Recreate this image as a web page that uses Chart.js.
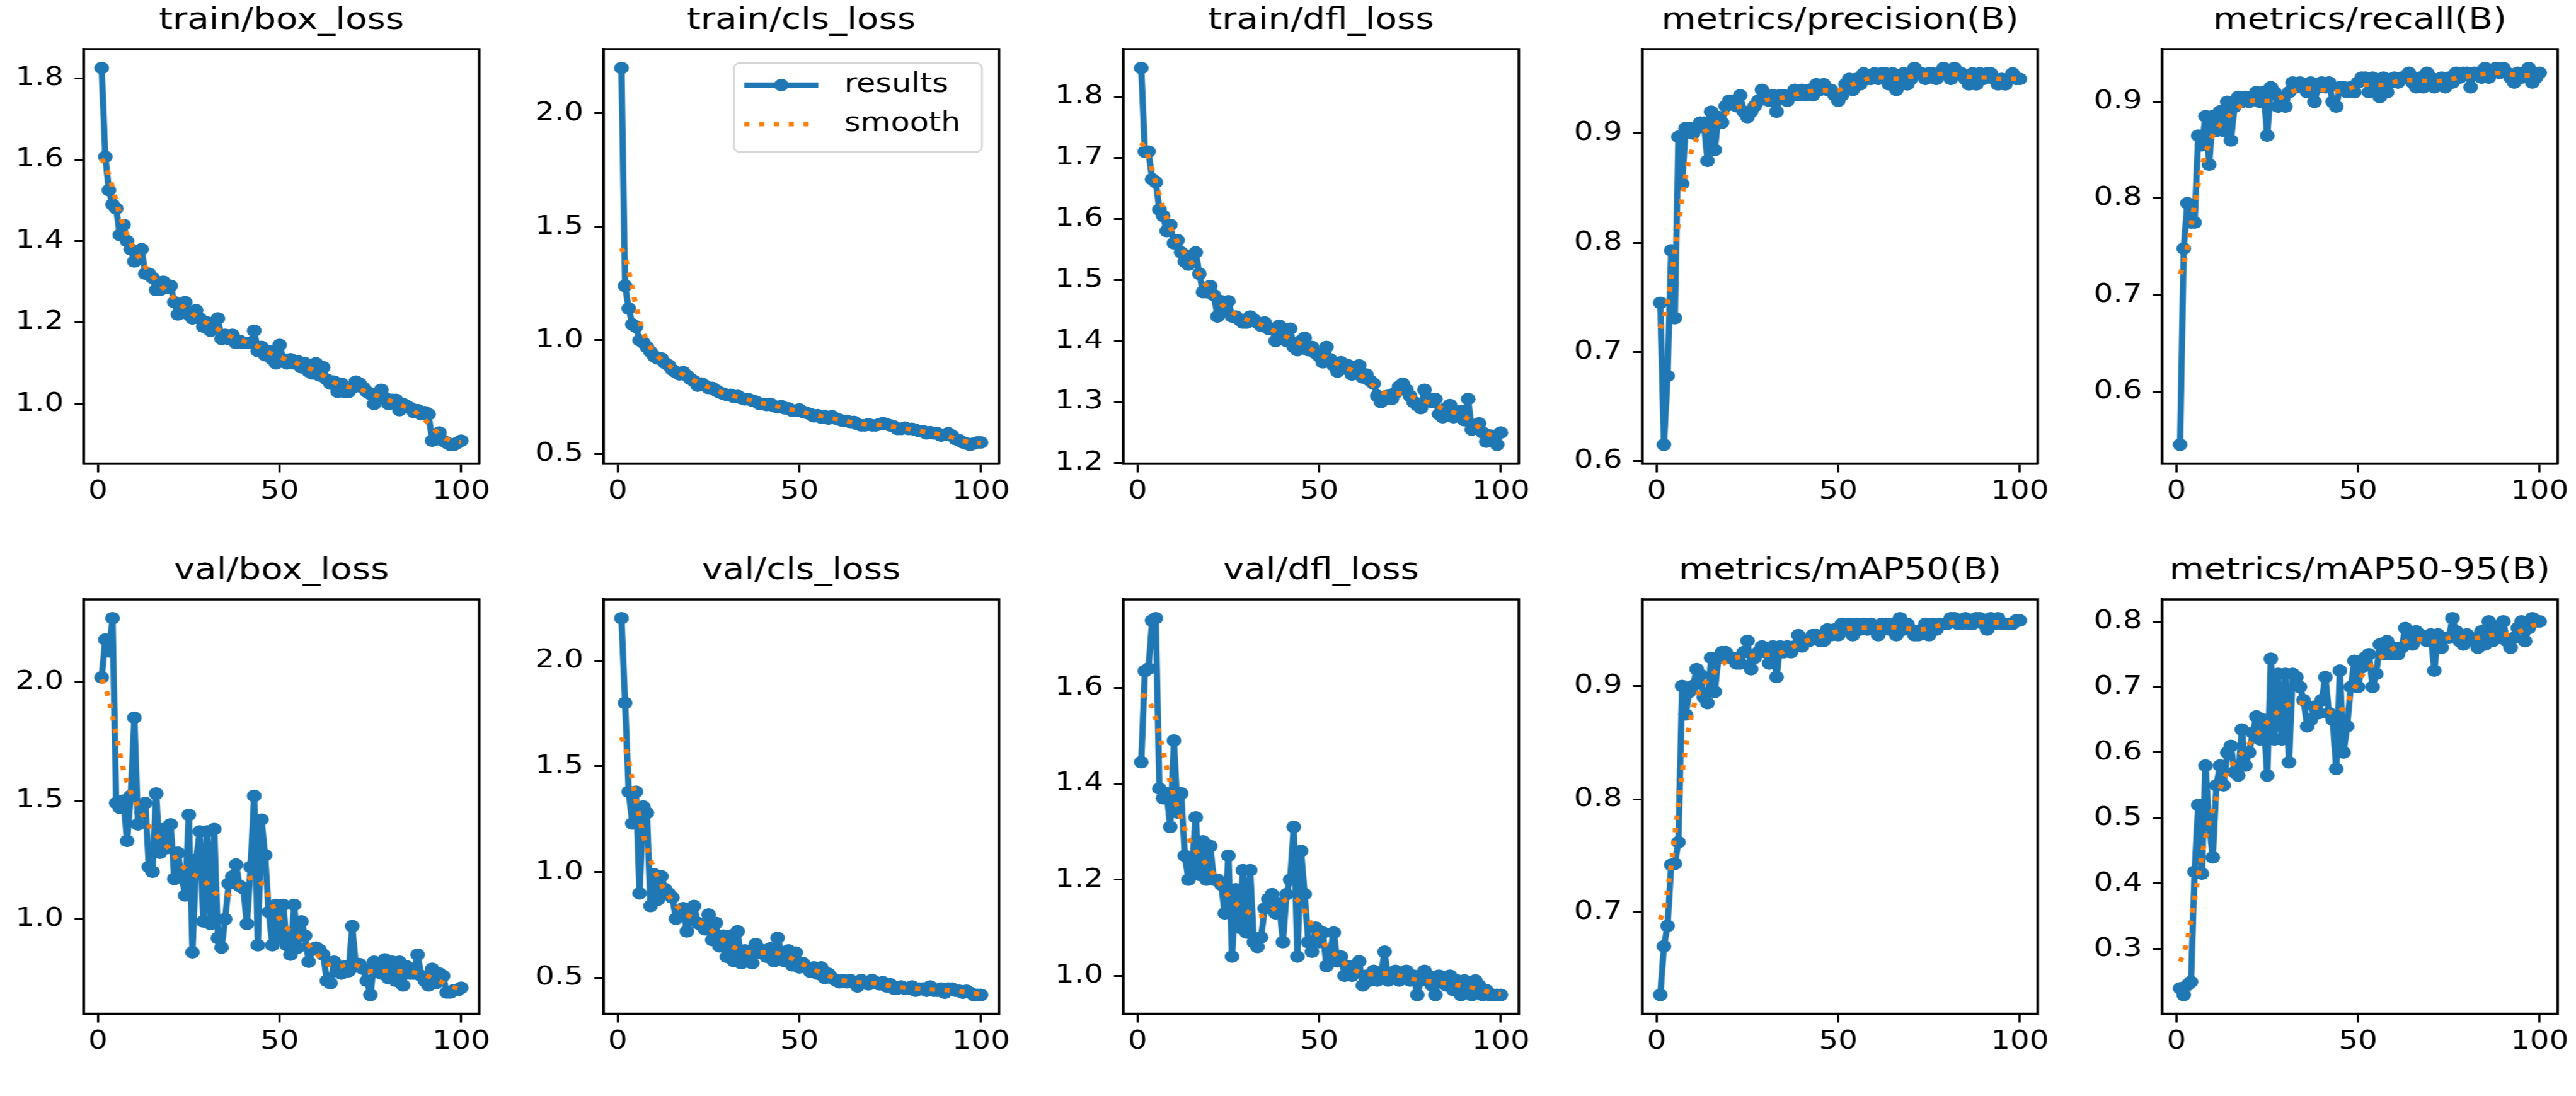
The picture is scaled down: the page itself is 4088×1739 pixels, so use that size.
<!DOCTYPE html>
<html>
<head>
<meta charset="utf-8">
<title>results</title>
<script src="https://cdn.jsdelivr.net/npm/chart.js@4.4.0/dist/chart.umd.min.js"></script>
<style>
  html, body { margin: 0; padding: 0; background: #fff; overflow: hidden; width: 4088px; height: 1739px; }
  /* the figure is drawn unstretched, then widened like the reference picture */
  #fig { position: absolute; left: 0; top: 0; width: 3479px; height: 1739px; transform-origin: 0 0; transform: scaleX(1.17505); }
  #fig canvas { position: absolute; }
</style>
</head>
<body>
<div id="fig"></div>
<script>
// epochs (x axis)
const epochs = [1,2,3,4,5,6,7,8,9,10,11,12,13,14,15,16,17,18,19,20,
  21,22,23,24,25,26,27,28,29,30,31,32,33,34,35,36,37,38,39,40,
  41,42,43,44,45,46,47,48,49,50,51,52,53,54,55,56,57,58,59,60,
  61,62,63,64,65,66,67,68,69,70,71,72,73,74,75,76,77,78,79,80,
  81,82,83,84,85,86,87,88,89,90,91,92,93,94,95,96,97,98,99,100];

// values, one per epoch
const trainBox = [1.825,1.607,1.525,1.49,1.48,1.415,1.44,1.40,1.38,1.35,
  1.375,1.38,1.32,1.32,1.31,1.28,1.28,1.30,1.285,1.29,
  1.25,1.22,1.24,1.25,1.22,1.21,1.23,1.21,1.19,1.20,
  1.18,1.20,1.21,1.16,1.17,1.16,1.17,1.15,1.155,1.15,
  1.15,1.15,1.18,1.13,1.14,1.12,1.13,1.11,1.10,1.145,
  1.11,1.10,1.11,1.10,1.105,1.09,1.10,1.08,1.075,1.10,
  1.07,1.09,1.06,1.05,1.055,1.03,1.05,1.03,1.03,1.04,
  1.055,1.05,1.04,1.03,1.025,1.0,1.02,1.035,1.015,1.0,
  1.01,1.01,0.985,1.0,0.995,0.99,0.98,0.985,0.975,0.98,
  0.975,0.91,0.92,0.93,0.91,0.905,0.90,0.90,0.905,0.91];

const trainCls = [2.2,1.24,1.14,1.07,1.06,1.0,0.99,0.97,0.95,0.93,
  0.92,0.92,0.90,0.89,0.87,0.86,0.85,0.86,0.845,0.83,
  0.82,0.80,0.81,0.80,0.79,0.79,0.78,0.77,0.765,0.76,
  0.76,0.75,0.755,0.745,0.74,0.74,0.735,0.73,0.72,0.72,
  0.715,0.72,0.71,0.705,0.71,0.70,0.70,0.69,0.69,0.695,
  0.685,0.68,0.675,0.665,0.67,0.66,0.665,0.655,0.665,0.655,
  0.65,0.645,0.645,0.64,0.64,0.63,0.625,0.625,0.63,0.625,
  0.625,0.63,0.635,0.63,0.625,0.62,0.61,0.61,0.615,0.61,
  0.61,0.605,0.60,0.60,0.59,0.595,0.59,0.59,0.58,0.585,
  0.59,0.58,0.565,0.56,0.55,0.545,0.54,0.545,0.55,0.55];

const trainDfl = [1.847,1.71,1.71,1.665,1.66,1.615,1.605,1.58,1.59,1.56,
  1.565,1.545,1.53,1.525,1.54,1.545,1.51,1.48,1.48,1.49,
  1.475,1.44,1.465,1.45,1.465,1.44,1.44,1.435,1.43,1.43,
  1.44,1.435,1.43,1.425,1.43,1.42,1.42,1.40,1.425,1.41,
  1.40,1.42,1.39,1.385,1.40,1.405,1.385,1.39,1.38,1.375,
  1.365,1.39,1.37,1.36,1.35,1.365,1.355,1.36,1.345,1.35,
  1.36,1.34,1.345,1.335,1.33,1.31,1.30,1.305,1.31,1.305,
  1.315,1.325,1.33,1.32,1.31,1.30,1.295,1.29,1.32,1.305,
  1.30,1.305,1.28,1.275,1.29,1.295,1.275,1.28,1.285,1.27,
  1.305,1.255,1.26,1.265,1.25,1.235,1.245,1.24,1.23,1.25];

const precision = [0.745,0.615,0.678,0.793,0.731,0.897,0.854,0.905,0.905,0.90,
  0.905,0.91,0.91,0.875,0.92,0.885,0.915,0.91,0.925,0.93,
  0.93,0.925,0.935,0.92,0.915,0.92,0.925,0.93,0.94,0.935,
  0.93,0.935,0.92,0.935,0.935,0.93,0.935,0.94,0.935,0.94,
  0.935,0.94,0.935,0.945,0.94,0.945,0.94,0.94,0.935,0.93,
  0.935,0.945,0.95,0.94,0.95,0.945,0.955,0.95,0.95,0.955,
  0.95,0.955,0.955,0.945,0.955,0.94,0.95,0.955,0.945,0.95,
  0.96,0.955,0.955,0.95,0.955,0.955,0.95,0.955,0.96,0.955,
  0.95,0.96,0.955,0.955,0.95,0.945,0.955,0.945,0.955,0.95,
  0.955,0.955,0.95,0.945,0.95,0.945,0.95,0.955,0.95,0.95];

const recall = [0.545,0.748,0.795,0.775,0.775,0.865,0.855,0.885,0.835,0.885,
  0.87,0.89,0.87,0.90,0.86,0.895,0.905,0.90,0.905,0.90,
  0.905,0.91,0.90,0.91,0.865,0.915,0.91,0.895,0.905,0.895,
  0.91,0.92,0.915,0.92,0.915,0.91,0.92,0.90,0.915,0.92,
  0.915,0.92,0.90,0.895,0.915,0.915,0.91,0.915,0.91,0.92,
  0.925,0.925,0.91,0.925,0.915,0.905,0.925,0.91,0.92,0.925,
  0.92,0.925,0.925,0.93,0.92,0.915,0.925,0.915,0.93,0.925,
  0.915,0.92,0.925,0.915,0.925,0.92,0.93,0.925,0.93,0.93,
  0.915,0.93,0.93,0.925,0.935,0.925,0.93,0.935,0.93,0.935,
  0.93,0.925,0.92,0.93,0.925,0.93,0.935,0.92,0.925,0.93];

const valBox = [2.02,2.18,2.13,2.27,1.49,1.47,1.50,1.33,1.52,1.85,
  1.40,1.45,1.49,1.22,1.20,1.53,1.28,1.38,1.30,1.40,
  1.17,1.28,1.18,1.10,1.44,0.86,1.25,1.37,0.99,1.37,
  0.98,1.38,0.92,0.88,1.00,1.15,1.18,1.23,1.14,1.13,
  0.98,1.22,1.52,0.89,1.42,1.27,1.03,0.89,1.06,0.92,
  1.06,0.89,0.85,1.06,0.88,0.99,0.93,0.82,0.87,0.88,
  0.87,0.85,0.74,0.73,0.82,0.78,0.77,0.80,0.78,0.97,
  0.80,0.81,0.79,0.74,0.68,0.82,0.79,0.77,0.83,0.75,
  0.82,0.74,0.82,0.72,0.80,0.77,0.77,0.85,0.76,0.74,
  0.72,0.79,0.73,0.77,0.76,0.69,0.69,0.70,0.70,0.71];

const valCls = [2.2,1.80,1.38,1.23,1.38,0.90,1.31,1.28,0.84,0.99,
  0.87,0.98,0.92,0.90,0.88,0.78,0.81,0.83,0.72,0.80,
  0.84,0.76,0.75,0.73,0.80,0.68,0.76,0.65,0.70,0.60,
  0.70,0.58,0.72,0.57,0.63,0.60,0.57,0.66,0.62,0.63,
  0.60,0.64,0.58,0.69,0.62,0.58,0.63,0.56,0.62,0.55,
  0.57,0.55,0.53,0.55,0.52,0.55,0.50,0.52,0.50,0.49,
  0.48,0.49,0.48,0.49,0.48,0.46,0.49,0.48,0.47,0.49,
  0.48,0.47,0.48,0.46,0.47,0.45,0.45,0.46,0.45,0.45,
  0.46,0.44,0.45,0.45,0.44,0.46,0.44,0.44,0.45,0.43,
  0.45,0.45,0.44,0.44,0.43,0.44,0.43,0.42,0.42,0.42];

const valDfl = [1.445,1.635,1.64,1.74,1.745,1.39,1.37,1.38,1.31,1.49,
  1.34,1.38,1.25,1.20,1.23,1.33,1.21,1.28,1.20,1.27,
  1.20,1.20,1.19,1.13,1.25,1.04,1.18,1.10,1.22,1.09,
  1.22,1.07,1.06,1.08,1.14,1.16,1.17,1.13,1.15,1.07,
  1.17,1.20,1.31,1.04,1.26,1.17,1.07,1.05,1.10,1.07,
  1.09,1.02,1.05,1.09,1.03,1.04,1.00,1.02,1.00,1.01,
  1.03,0.98,1.00,0.99,1.01,0.99,1.00,1.05,0.99,1.00,
  1.01,0.99,1.00,1.01,0.99,1.00,0.96,0.99,1.01,1.00,
  0.98,0.96,1.00,0.99,0.98,1.00,0.97,0.99,0.96,0.99,
  0.98,0.96,0.99,0.98,0.96,0.97,0.96,0.96,0.96,0.96];

const mAP50 = [0.627,0.67,0.688,0.742,0.743,0.762,0.90,0.875,0.895,0.90,
  0.915,0.91,0.89,0.885,0.925,0.895,0.925,0.93,0.93,0.925,
  0.925,0.92,0.92,0.93,0.94,0.915,0.925,0.93,0.935,0.93,
  0.92,0.935,0.908,0.935,0.93,0.935,0.93,0.935,0.945,0.935,
  0.94,0.94,0.945,0.945,0.94,0.94,0.95,0.945,0.95,0.945,
  0.955,0.95,0.955,0.945,0.955,0.95,0.955,0.95,0.955,0.95,
  0.945,0.955,0.955,0.95,0.955,0.945,0.96,0.95,0.955,0.95,
  0.945,0.945,0.95,0.955,0.945,0.955,0.95,0.955,0.955,0.955,
  0.96,0.96,0.955,0.955,0.96,0.955,0.955,0.96,0.96,0.955,
  0.95,0.96,0.955,0.96,0.955,0.955,0.955,0.955,0.958,0.958];

const mAP5095 = [0.24,0.23,0.245,0.25,0.418,0.52,0.415,0.58,0.49,0.44,
  0.55,0.58,0.55,0.60,0.61,0.57,0.565,0.635,0.58,0.60,
  0.63,0.655,0.62,0.65,0.565,0.743,0.62,0.72,0.62,0.72,
  0.585,0.72,0.715,0.70,0.68,0.64,0.65,0.67,0.66,0.68,
  0.715,0.66,0.65,0.575,0.725,0.60,0.64,0.70,0.74,0.70,
  0.73,0.745,0.75,0.70,0.72,0.765,0.75,0.77,0.75,0.76,
  0.75,0.76,0.79,0.78,0.765,0.785,0.78,0.775,0.77,0.78,
  0.725,0.78,0.76,0.775,0.775,0.805,0.785,0.77,0.765,0.78,
  0.775,0.77,0.76,0.785,0.765,0.80,0.77,0.79,0.775,0.80,
  0.77,0.76,0.775,0.79,0.80,0.77,0.79,0.805,0.80,0.80];

// titles and tick labels
const titles = ['train/box_loss','train/cls_loss','train/dfl_loss','metrics/precision(B)','metrics/recall(B)',
  'val/box_loss','val/cls_loss','val/dfl_loss','metrics/mAP50(B)','metrics/mAP50-95(B)'];
const xTicks = [0, 50, 100];
const ticksTrainBox = [1.0, 1.2, 1.4, 1.6, 1.8];
const ticksTrainCls = [0.5, 1.0, 1.5, 2.0];
const ticksTrainDfl = [1.2, 1.3, 1.4, 1.5, 1.6, 1.7, 1.8];
const ticksPrecision = [0.6, 0.7, 0.8, 0.9];
const ticksRecall = [0.6, 0.7, 0.8, 0.9];
const ticksValBox = [1.0, 1.5, 2.0];
const ticksValCls = [0.5, 1.0, 1.5, 2.0];
const ticksValDfl = [1.0, 1.2, 1.4, 1.6];
const ticksMAP50 = [0.7, 0.8, 0.9];
const ticksMAP5095 = [0.3, 0.4, 0.5, 0.6, 0.7, 0.8];

const panels = [
  { values: trainBox, ticks: ticksTrainBox },
  { values: trainCls, ticks: ticksTrainCls, legend: true },
  { values: trainDfl, ticks: ticksTrainDfl },
  { values: precision, ticks: ticksPrecision },
  { values: recall, ticks: ticksRecall },
  { values: valBox, ticks: ticksValBox },
  { values: valCls, ticks: ticksValCls },
  { values: valDfl, ticks: ticksValDfl },
  { values: mAP50, ticks: ticksMAP50 },
  { values: mAP5095, ticks: ticksMAP5095 }
];

// layout (unstretched pixels)
const COL_X = [1, 703, 1405, 2106, 2808];
const ROW_Y = [0, 873];
const CV_W = 668, CV_H = 866;
const Y_W = 112, PAD_R = 18, X_H = 130.5;
const FONT = 'DejaVu Sans';
const BLUE = '#1f77b4', ORANGE = '#ff7f0e';
const LINE_W = 8.5, DOT_R = 10, SMOOTH_W = 7, SMOOTH_DASH = [7, 13];

// same smoothing the training script applies (gaussian, sigma 3, reflected edges)
function gaussSmooth(arr, sigma) {
  const r = Math.round(4 * sigma);
  const w = [];
  let sum = 0;
  for (let k = -r; k <= r; k++) {
    const v = Math.exp(-k * k / (2 * sigma * sigma));
    w.push(v);
    sum += v;
  }
  const n = arr.length;
  return arr.map((_, i) => {
    let acc = 0;
    for (let k = -r; k <= r; k++) {
      let j = i + k;
      if (j < 0) j = -j - 1;
      if (j >= n) j = 2 * n - j - 1;
      acc += arr[j] * w[k + r];
    }
    return acc / sum;
  });
}

// box round the axes
const frame = {
  id: 'frame',
  afterDraw(chart) {
    const a = chart.chartArea, ctx = chart.ctx;
    ctx.save();
    ctx.strokeStyle = '#000';
    ctx.lineWidth = 3.5;
    ctx.strokeRect(a.left, a.top, a.right - a.left, a.bottom - a.top);
    ctx.restore();
  }
};

// matplotlib style legend inside the axes
const legendBox = {
  id: 'legendBox',
  afterDraw(chart) {
    const a = chart.chartArea, ctx = chart.ctx;
    const w = 335, h = 141;
    const x = a.right - 23 - w, y = a.top + 22;
    const ds = chart.data.datasets;
    ctx.save();
    ctx.beginPath();
    ctx.roundRect(x, y, w, h, 8);
    ctx.fillStyle = 'rgba(255,255,255,0.8)';
    ctx.fill();
    ctx.strokeStyle = '#d6d6d6';
    ctx.lineWidth = 2.5;
    ctx.stroke();

    const rows = [y + 35, y + 97];
    // results: line with a marker
    ctx.strokeStyle = BLUE;
    ctx.lineWidth = LINE_W;
    ctx.beginPath();
    ctx.moveTo(x + 14, rows[0]);
    ctx.lineTo(x + 114, rows[0]);
    ctx.stroke();
    ctx.fillStyle = BLUE;
    ctx.beginPath();
    ctx.arc(x + 64, rows[0], DOT_R, 0, Math.PI * 2);
    ctx.fill();
    // smooth: dotted line
    ctx.strokeStyle = ORANGE;
    ctx.lineWidth = SMOOTH_W;
    ctx.setLineDash(SMOOTH_DASH);
    ctx.beginPath();
    ctx.moveTo(x + 14, rows[1]);
    ctx.lineTo(x + 114, rows[1]);
    ctx.stroke();
    ctx.setLineDash([]);

    ctx.fillStyle = '#000';
    ctx.font = '42px "' + FONT + '"';
    ctx.textBaseline = 'middle';
    ctx.textAlign = 'left';
    ctx.fillText(ds[0].label, x + 149, rows[0]);
    ctx.fillText(ds[1].label, x + 149, rows[1]);
    ctx.restore();
  }
};

const fig = document.getElementById('fig');

panels.forEach((p, idx) => {
  const cv = document.createElement('canvas');
  cv.width = CV_W;
  cv.height = CV_H;
  cv.style.left = COL_X[idx % 5] + 'px';
  cv.style.top = ROW_Y[Math.floor(idx / 5)] + 'px';
  fig.appendChild(cv);

  const smooth = gaussSmooth(p.values, 3);
  const all = p.values.concat(smooth);
  const lo = Math.min(...all), hi = Math.max(...all), m = 0.05 * (hi - lo);
  const x0 = epochs[0], x1 = epochs[epochs.length - 1], xm = 0.05 * (x1 - x0);

  const tickGrid = len => ({
    display: true, drawOnChartArea: false, drawTicks: true,
    tickLength: len, tickWidth: 3, tickColor: '#000'
  });

  new Chart(cv, {
    type: 'line',
    data: {
      datasets: [
        {
          label: 'results',
          data: epochs.map((e, i) => ({ x: e, y: p.values[i] })),
          borderColor: BLUE,
          backgroundColor: BLUE,
          borderWidth: LINE_W,
          borderJoinStyle: 'round',
          pointRadius: DOT_R,
          pointBorderWidth: 0,
          pointBackgroundColor: BLUE,
          tension: 0,
          order: 1
        },
        {
          label: 'smooth',
          data: epochs.map((e, i) => ({ x: e, y: smooth[i] })),
          borderColor: ORANGE,
          borderWidth: SMOOTH_W,
          borderDash: SMOOTH_DASH,
          pointRadius: 0,
          tension: 0,
          order: 0
        }
      ]
    },
    options: {
      responsive: false,
      animation: false,
      devicePixelRatio: 1,
      events: [],
      layout: { padding: { left: 0, right: PAD_R, top: 0, bottom: 0 } },
      plugins: {
        legend: { display: false },
        tooltip: { enabled: false },
        title: {
          display: true,
          text: titles[idx],
          fullSize: false,
          color: '#000',
          font: { family: FONT, size: 48, weight: 'normal', lineHeight: 1.2 },
          padding: { top: 5, bottom: 15.4 }
        }
      },
      scales: {
        x: {
          type: 'linear',
          min: x0 - xm,
          max: x1 + xm,
          afterBuildTicks: s => { s.ticks = xTicks.map(v => ({ value: v })); },
          afterFit: s => { s.height = X_H; },
          ticks: {
            color: '#000', font: { family: FONT, size: 41 }, padding: 6,
            maxRotation: 0, autoSkip: false, callback: v => String(v)
          },
          grid: tickGrid(14),
          border: { display: true, color: '#000', width: 3.5 }
        },
        y: {
          type: 'linear',
          min: lo - m,
          max: hi + m,
          afterBuildTicks: s => { s.ticks = p.ticks.map(v => ({ value: v })); },
          afterFit: s => { s.width = Y_W; },
          ticks: {
            color: '#000', font: { family: FONT, size: 41 }, padding: 14.5,
            autoSkip: false, callback: v => v.toFixed(1)
          },
          grid: tickGrid(12.5),
          border: { display: true, color: '#000', width: 3.5 }
        }
      }
    },
    plugins: p.legend ? [frame, legendBox] : [frame]
  });
});
</script>
</body>
</html>
